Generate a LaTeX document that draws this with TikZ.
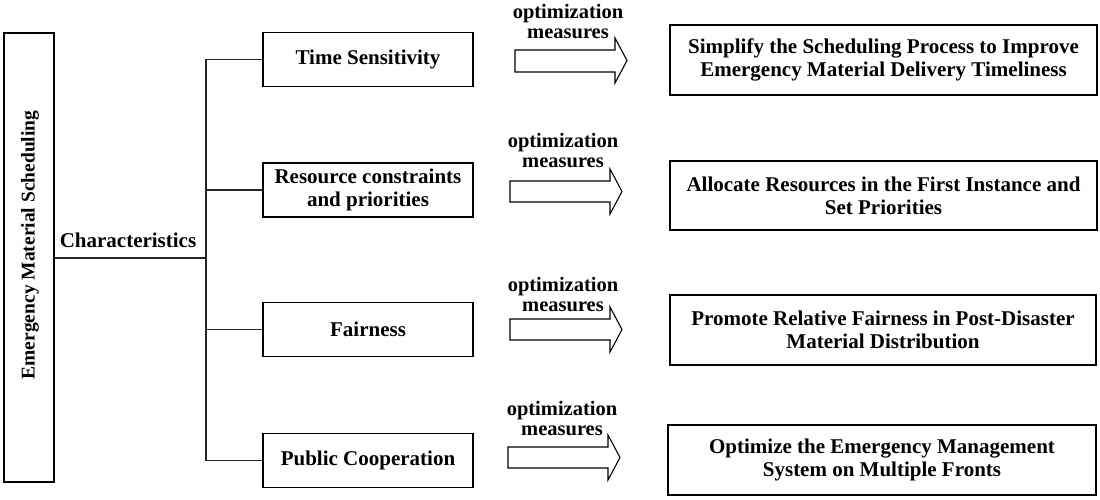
\documentclass[tikz,border=0pt]{standalone}
\usepackage{fontspec}
\setmainfont{Liberation Serif}
\begin{document}
\begin{tikzpicture}[x=1pt,y=-1pt,
  every node/.style={font=\bfseries\fontsize{21}{23}\selectfont, inner sep=0pt},
  box/.style={draw=black, line width=1.1pt, align=center},
  conn/.style={draw=black!85, line width=1.3pt},
  fatarrow/.style={draw=black, line width=1.1pt, fill=white},
  lbl/.style={align=center, font=\bfseries\fontsize{20.5}{20}\selectfont}]
\useasboundingbox (0,0) rectangle (1100,500);
% left box
\node[box, minimum width=50pt, minimum height=449pt] (root) at (29,257.5) {};
\node[rotate=90, font=\bfseries\fontsize{19.5}{22}\selectfont] (roottxt) at (30,245) {Emergency Material Scheduling};
\node (char) at (128,240) {Characteristics};
% trunk
\coordinate (tr) at (206,258);
% characteristic boxes
\node[box, minimum width=210pt, minimum height=54pt] (c1) at (368,59.5) {Time Sensitivity};
\node[box, minimum width=210pt, minimum height=54pt] (c2) at (368,190) {Resource constraints\\and priorities};
\node[box, minimum width=210pt, minimum height=54pt] (c3) at (368,329.5) {Fairness};
\node[box, minimum width=210pt, minimum height=54pt] (c4) at (368,460.5) {Public Cooperation};
\draw[conn] (root.east |- tr) -- (tr);
\draw[conn] (c1.west -| tr) -- (c4.west -| tr);
\draw[conn] (c1.west -| tr) -- (c1.west);
\draw[conn] (c2.west -| tr) -- (c2.west);
\draw[conn] (c3.west -| tr) -- (c3.west);
\draw[conn] (c4.west -| tr) -- (c4.west);
% labels
\node[lbl] (m1) at (568,22) {optimization\\measures};
\node[lbl] (m2) at (563,151) {optimization\\measures};
\node[lbl] (m3) at (563,295) {optimization\\measures};
\node[lbl] (m4) at (562,419) {optimization\\measures};
% fat arrows
\draw[fatarrow] (515,50) -- (615,50) -- (615,38) -- (627,60.5) -- (615,83) -- (615,72) -- (515,72) -- cycle;
\draw[fatarrow] (510,181) -- (610,181) -- (610,169) -- (622,191.5) -- (610,214) -- (610,202) -- (510,202) -- cycle;
\draw[fatarrow] (510,319) -- (610,319) -- (610,307) -- (622,329.5) -- (610,352) -- (610,340) -- (510,340) -- cycle;
\draw[fatarrow] (508,447) -- (608,447) -- (608,435) -- (620,457.5) -- (608,480) -- (608,468) -- (508,468) -- cycle;
% result boxes
\node[box, minimum width=427pt, minimum height=70pt] (r1) at (883.5,60) {Simplify the Scheduling Process to Improve\\Emergency Material Delivery Timeliness};
\node[box, minimum width=427pt, minimum height=69pt] (r2) at (883.5,195.5) {Allocate Resources in the First Instance and\\Set Priorities};
\node[box, minimum width=426pt, minimum height=70pt] (r3) at (883,330) {Promote Relative Fairness in Post-Disaster\\Material Distribution};
\node[box, minimum width=428pt, minimum height=70pt] (r4) at (882,460) {Optimize the Emergency Management\\System on Multiple Fronts};
\end{tikzpicture}
\end{document}
